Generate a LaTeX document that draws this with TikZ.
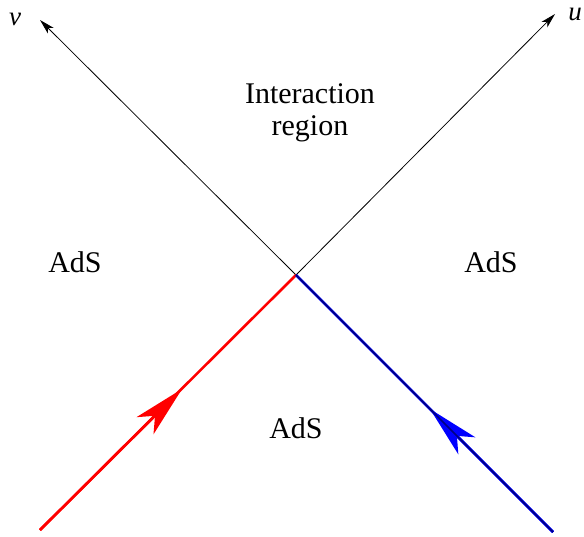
\documentclass[tikz,border=0pt]{standalone}
\usepackage{fontspec}
\setmainfont{Liberation Serif}
\usetikzlibrary{arrows.meta}
\definecolor{navyline}{RGB}{0,0,130}
\tikzset{
  axis/.style={black, line width=0.8pt, -{Stealth[length=15pt,width=8pt,inset=4pt]}},
  bigtip/.style={-{Stealth[length=52pt,width=24pt,inset=14pt]}},
  lbl/.style={font=\fontsize{30}{32}\selectfont, align=center, inner sep=0pt},
  axlbl/.style={font=\fontsize{27}{30}\selectfont\itshape, inner sep=0pt}
}
\begin{document}
\begin{tikzpicture}[x=1pt,y=-1pt]
\useasboundingbox (0,0) rectangle (584,536);
\coordinate (O) at (296,275);
\coordinate (vend) at (40,20);
\coordinate (uend) at (555,14);
\coordinate (rstart) at (40,530);
\coordinate (rtip) at (182,389);
\coordinate (bstart) at (553,532);
\coordinate (btip) at (430,409);
% axes
\draw[axis] (O) -- (vend);
\draw[axis] (O) -- (uend);
% red incoming
\draw[red, line width=2.6pt] (rstart) -- (O);
\draw[red, line width=2.6pt, bigtip] (rstart) -- (rtip);
% blue incoming
\draw[blue, line width=2.8pt] (bstart) -- (O);
\draw[navyline, line width=1.6pt] (bstart) -- (O);
\draw[blue, line width=2.8pt, bigtip] (bstart) -- (btip);
\draw[navyline, line width=1.6pt] (bstart) -- (btip);
% labels
\node[lbl] (vl) at (15,19) [font=\fontsize{27}{30}\selectfont\itshape] {v};
\node[lbl] (ul) at (575,14) [font=\fontsize{27}{30}\selectfont\itshape] {u};
\node[lbl] (ir) at (310,113) {Interaction\\region};
\node[lbl] (al) at (75,262) {AdS};
\node[lbl] (ar) at (491,262) {AdS};
\node[lbl] (ab) at (296,428) {AdS};
\end{tikzpicture}
\end{document}
